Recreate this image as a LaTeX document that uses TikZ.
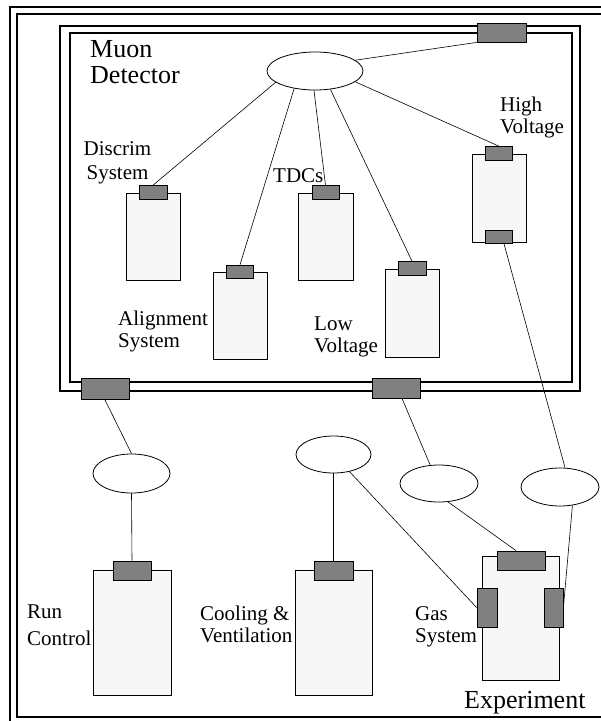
\documentclass[tikz,border=0pt]{standalone}
\usepackage{fontspec}
\setmainfont{Liberation Serif}
\usetikzlibrary{shapes.geometric, positioning, calc}
\definecolor{portgray}{RGB}{128,128,128}
\definecolor{cratefill}{RGB}{247,247,247}
\tikzset{
  crate/.style={draw, fill=cratefill, line width=0.8pt, inner sep=0pt},
  port/.style={draw, fill=portgray, line width=0.8pt, inner sep=0pt},
  hub/.style={draw, ellipse, line width=0.8pt, inner sep=0pt},
  wire/.style={line width=0.6pt},
  frameline/.style={line width=2.2pt},
  lbl/.style={font=\fontsize{21}{22}\selectfont, align=left, inner sep=0pt, anchor=base west}
}

\begin{document}
\begin{tikzpicture}[x=1pt, y=-1pt]
  \useasboundingbox (0,0) rectangle (601,721);

  % outer frame
  \draw[line width=1.5pt] (10,740) -- (10,7) -- (620,7);
  \draw[line width=2pt] (17,717) rectangle (620,14);

  % detector frame
  \draw[frameline] (60,26) rectangle (580,391);
  \draw[frameline] (70,33) rectangle (572,382);
  \node[port, minimum width=49, minimum height=19] (dettop) at (501.5,32.5) {};
  \node[port, minimum width=48, minimum height=21] (detrun) at (105,389) {};
  \node[port, minimum width=48, minimum height=20] (detgas) at (396,388) {};

  \node[hub, minimum width=96, minimum height=38] (dethub) at (315,71) {};

  % crates inside the detector
  \node[crate, minimum width=54, minimum height=87] (discrim) at (153,236.5) {};
  \node[port, minimum width=28, minimum height=14] (discrimport) at (discrim.north) {};
  \node[crate, minimum width=54, minimum height=87] (align) at (240,315.5) {};
  \node[port, minimum width=27, minimum height=13] (alignport) at (align.north) {};
  \node[crate, minimum width=55, minimum height=87] (tdc) at (325.5,236.5) {};
  \node[port, minimum width=27, minimum height=14] (tdcport) at (tdc.north) {};
  \node[crate, minimum width=54, minimum height=88] (lv) at (412,313) {};
  \node[port, minimum width=28, minimum height=14] (lvport) at (lv.north) {};
  \node[crate, minimum width=54, minimum height=88] (hv) at (499,198) {};
  \node[port, minimum width=27, minimum height=14] (hvport) at (hv.north) {};
  \node[port, minimum width=27, minimum height=13] (hvlow) at ([yshift=5.5pt]hv.south) {};

  % crates outside
  \node[hub, minimum width=77, minimum height=39] (runhub) at (131.5,473.5) {};
  \node[crate, minimum width=78, minimum height=125] (run) at (132,632.5) {};
  \node[port, minimum width=38, minimum height=19] (runport) at (132,570.5) {};
  \node[hub, minimum width=75, minimum height=37] (coolhub) at (333.5,454.5) {};
  \node[crate, minimum width=77, minimum height=125] (cool) at (333.5,632.5) {};
  \node[port, minimum width=39, minimum height=19] (coolport) at (333.5,570.5) {};
  \node[hub, minimum width=78, minimum height=37] (gashub) at (439,483.5) {};
  \node[hub, minimum width=78, minimum height=38] (hvhub) at (560,487) {};
  \node[crate, minimum width=77, minimum height=124] (exp) at (520.5,618) {};
  \node[port, minimum width=48, minimum height=19] (exptop) at (521,560.5) {};
  \node[port, minimum width=20, minimum height=39] (expleft) at (487,607.5) {};
  \node[port, minimum width=19, minimum height=39] (expright) at (553.5,607.5) {};

  % labels (base = last line)
  \node[lbl, font=\fontsize{26}{26}\selectfont] (muonlbl) at (90,83) {Muon\\Detector};
  \node[lbl, font=\fontsize{21}{24}\selectfont, align=center, anchor=base] (discrimlbl) at (117.5,179) {Discrim\\System};
  \node[lbl] (tdclbl) at (273,182) {TDCs};
  \node[lbl] (hvlbl) at (500,133) {High\\Voltage};
  \node[lbl] (alignlbl) at (118,347) {Alignment\\System};
  \node[lbl] (lvlbl) at (314,352) {Low\\Voltage};
  \node[lbl, font=\fontsize{21}{27}\selectfont] (runlbl) at (27,645) {Run\\Control};
  \node[lbl] (coollbl) at (200,642) {Cooling \&\\Ventilation};
  \node[lbl] (gaslbl) at (415,642) {Gas\\System};
  \node[lbl, font=\fontsize{26}{26}\selectfont] (explbl) at (464,708) {Experiment};

  % wires
  \draw[wire] (dethub.15) -- (dettop.south west);
  \draw[wire] (dethub.196) -- (discrimport.north);
  \draw[wire] (dethub.220) -- (alignport.north);
  \draw[wire] (dethub.267) -- (tdcport.north);
  \draw[wire] (dethub.310) -- (lvport.north);
  \draw[wire] (dethub.345) -- (hvport.north);
  \draw[wire] (detrun.south) -- (runhub.north);
  \draw[wire] (runhub.south) -- (runport.north);
  \draw[wire] (coolhub.south) -- (coolport.north);
  \draw[wire] (coolhub) -- (expleft.west);
  \draw[wire] ([xshift=6pt]detgas.south) -- ([xshift=-9pt]gashub.north);
  \draw[wire] (gashub.296) -- ([xshift=-5pt]exptop.north);
  \draw[wire] ([xshift=5pt]hvlow.south) -- ([xshift=5pt]hvhub.north);
  \draw[wire] (hvhub.304) -- (expright.east);
\end{tikzpicture}
\end{document}
